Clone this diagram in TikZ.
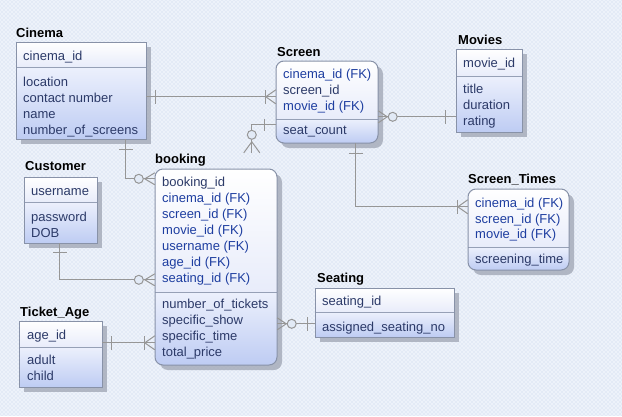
\documentclass[tikz,border=0pt]{standalone}
\usepackage{fontspec}
\setmainfont{Liberation Sans}
\usetikzlibrary{calc,fit}

\definecolor{bgc}{RGB}{226,234,246}
\definecolor{hatchc}{RGB}{240,244,251}
\definecolor{shadowc}{RGB}{158,164,178}
\definecolor{borderc}{RGB}{136,146,168}
\definecolor{sepc}{RGB}{150,160,182}
\definecolor{keytop}{RGB}{255,255,255}
\definecolor{keybot}{RGB}{232,236,250}
\definecolor{attrtop}{RGB}{236,240,252}
\definecolor{attrbot}{RGB}{190,204,243}
\definecolor{txtc}{RGB}{44,58,104}
\definecolor{fkc}{RGB}{30,62,160}
\definecolor{relc}{RGB}{150,150,150}

\tikzset{
  ttl/.style={font=\fontsize{13}{16}\bfseries\selectfont, anchor=base west, inner sep=0pt, text=black},
  fld/.style={font=\fontsize{13}{16}\selectfont, anchor=base west, inner sep=0pt, text=txtc},
  fk/.style={fld, text=fkc},
  rel/.style={draw=relc, line width=1pt},
  hollow/.style={rel, fill=bgc},
}

% entity box: name, left, top, right, separator, bottom, corner radius
\newcommand\entity[7]{%
  \fill[shadowc, opacity=.75, rounded corners=#7] (#2+5,#3+5) rectangle (#4+5,#6+5);
  \begin{scope}
    \clip[rounded corners=#7] (#2,#3) rectangle (#4,#6);
    \shade[top color=keytop, bottom color=keybot] (#2,#3) rectangle (#4,#5);
    \shade[top color=attrtop, bottom color=attrbot] (#2,#5) rectangle (#4,#6);
  \end{scope}
  \draw[sepc, line width=1pt] (#2,#5) -- (#4,#5);
  \draw[borderc, line width=1pt, rounded corners=#7] (#2,#3) rectangle (#4,#6);
  \coordinate (#1-nw) at (#2,#3);
  \coordinate (#1-se) at (#4,#6);
  \node[fit=(#1-nw)(#1-se), inner sep=0pt, draw=none] (#1) {};
}

\begin{document}
\begin{tikzpicture}[x=1pt, y=-1pt]
\useasboundingbox (0,0) rectangle (622,416);
% canvas with a faint cross hatch
\fill[bgc] (0,0) rectangle (622,416);
\begin{scope}
  \clip (0,0) rectangle (622,416);
  \foreach \k in {-420,-416,...,624} {
    \draw[hatchc, line width=.6pt] (\k,0) -- ++(416,416);
    \draw[hatchc, line width=.6pt] (\k+416,0) -- ++(-416,416);
  }
\end{scope}

% ---------- entities ----------
\entity{cin}{16}{42}{146}{67}{139}{0pt}
\node[ttl] (cin-t) at (16,37) {Cinema};
\node[fld] (cin-k)  at (23,60)  {cinema\_id};
\node[fld] (cin-a1) at (23,86)  {location};
\node[fld] (cin-a2) at (23,102) {contact number};
\node[fld] (cin-a3) at (23,118) {name};
\node[fld] (cin-a4) at (23,134) {number\_of\_screens};

\entity{scr}{276}{61}{378}{119}{143}{8pt}
\node[ttl] (scr-t) at (277,56) {Screen};
\node[fk]  (scr-k1) at (283,78)  {cinema\_id (FK)};
\node[fld] (scr-k2) at (283,94)  {screen\_id};
\node[fk]  (scr-k3) at (283,110) {movie\_id (FK)};
\node[fld] (scr-a1) at (283,134) {seat\_count};

\entity{mov}{456}{49}{522}{76}{132}{0pt}
\node[ttl] (mov-t) at (458,44) {Movies};
\node[fld] (mov-k)  at (463,67)  {movie\_id};
\node[fld] (mov-a1) at (463,93)  {title};
\node[fld] (mov-a2) at (463,109) {duration};
\node[fld] (mov-a3) at (463,125) {rating};

\entity{cus}{24}{177}{97}{202}{243}{0pt}
\node[ttl] (cus-t) at (25,170) {Customer};
\node[fld] (cus-k)  at (31,195) {username};
\node[fld] (cus-a1) at (31,221) {password};
\node[fld] (cus-a2) at (31,237) {DOB};

\entity{bk}{155}{169}{277}{292}{365}{8pt}
\node[ttl] (bk-t) at (155,163) {booking};
\node[fld] (bk-k1) at (162,186) {booking\_id};
\node[fk]  (bk-k2) at (162,202) {cinema\_id (FK)};
\node[fk]  (bk-k3) at (162,218) {screen\_id (FK)};
\node[fk]  (bk-k4) at (162,234) {movie\_id (FK)};
\node[fk]  (bk-k5) at (162,250) {username (FK)};
\node[fk]  (bk-k6) at (162,266) {age\_id (FK)};
\node[fk]  (bk-k7) at (162,282) {seating\_id (FK)};
\node[fld] (bk-a1) at (162,308) {number\_of\_tickets};
\node[fld] (bk-a2) at (162,324) {specific\_show};
\node[fld] (bk-a3) at (162,340) {specific\_time};
\node[fld] (bk-a4) at (162,356) {total\_price};

\entity{tka}{19}{321}{102}{347}{387}{0pt}
\node[ttl] (tka-t) at (20,316) {Ticket\_Age};
\node[fld] (tka-k)  at (27,339) {age\_id};
\node[fld] (tka-a1) at (27,364) {adult};
\node[fld] (tka-a2) at (27,380) {child};

\entity{sea}{315}{288}{454}{312}{337}{0pt}
\node[ttl] (sea-t) at (317,282) {Seating};
\node[fld] (sea-k)  at (322,305) {seating\_id};
\node[fld] (sea-a1) at (322,331) {assigned\_seating\_no};

\entity{stm}{468}{189}{569}{247}{270}{8pt}
\node[ttl] (stm-t) at (468,183) {Screen\_Times};
\node[fk]  (stm-k1) at (475,207) {cinema\_id (FK)};
\node[fk]  (stm-k2) at (475,223) {screen\_id (FK)};
\node[fk]  (stm-k3) at (475,238) {movie\_id (FK)};
\node[fld] (stm-a1) at (475,263) {screening\_time};

% ---------- relationships ----------
% Cinema -- Screen
\draw[rel] ($(cin.north east)+(0,55)$) coordinate (c1a) -- (scr.west |- c1a) coordinate (c1b);
\draw[rel] ($(c1a)+(9,-7)$) -- ++(0,14);
\draw[rel] ($(c1b)+(-10,-7)$) -- ++(0,14);
\draw[rel] ($(c1b)+(0,-7)$) -- ++(-10,7) -- ++(10,7);

% Cinema -- booking
\draw[rel] ($(cin.south west)+(110,0)$) coordinate (c2a) |- ($(bk.north west)+(0,10)$) coordinate (c2b);
\draw[rel] ($(c2a)+(-7,10)$) -- ++(14,0);
\draw[hollow] ($(c2b)+(-16,0)$) circle[radius=4.5pt];
\draw[rel] ($(c2b)+(0,-6)$) -- ++(-10,6) -- ++(10,6);

% Screen -- Movies
\draw[rel] ($(scr.north east)+(0,56)$) coordinate (c3a) -- (mov.west |- c3a) coordinate (c3b);
\draw[rel] ($(c3a)+(0,-6)$) -- ++(9,6) -- ++(-9,6);
\draw[hollow] ($(c3a)+(14.5,0)$) circle[radius=4.5pt];
\draw[rel] ($(c3b)+(-10,-7)$) -- ++(0,14);

% Screen -- Screen_Times
\draw[rel] ($(scr.south west)+(80,0)$) coordinate (c4a) |- ($(stm.north west)+(0,18)$) coordinate (c4b);
\draw[rel] ($(c4a)+(-7,10)$) -- ++(14,0);
\draw[rel] ($(c4b)+(-10,-7)$) -- ++(0,14);
\draw[rel] ($(c4b)+(0,-7)$) -- ++(-10,7) -- ++(10,7);

% Customer -- booking
\draw[rel] ($(cus.south west)+(36,0)$) coordinate (c5a) |- ($(bk.north west)+(0,111)$) coordinate (c5b);
\draw[rel] ($(c5a)+(-7,9)$) -- ++(14,0);
\draw[hollow] ($(c5b)+(-16,0)$) circle[radius=4.5pt];
\draw[rel] ($(c5b)+(0,-6)$) -- ++(-10,6) -- ++(10,6);

% Ticket_Age -- booking
\draw[rel] ($(tka.north east)+(0,22)$) coordinate (c6a) -- (bk.west |- c6a) coordinate (c6b);
\draw[rel] ($(c6a)+(9,-7)$) -- ++(0,14);
\draw[rel] ($(c6b)+(-10,-7)$) -- ++(0,14);
\draw[rel] ($(c6b)+(0,-7)$) -- ++(-10,7) -- ++(10,7);

% booking -- Seating
\draw[rel] ($(sea.north west)+(0,36)$) coordinate (c7b) -- (bk.east |- c7b) coordinate (c7a);
\draw[rel] ($(c7a)+(0,-6)$) -- ++(9,6) -- ++(-9,6);
\draw[hollow] ($(c7a)+(14.5,0)$) circle[radius=4.5pt];
\draw[rel] ($(c7b)+(-7,-7)$) -- ++(0,14);

% Screen -- Screen (recursive)
\draw[rel] ($(scr.north west)+(0,64)$) coordinate (c8a) -| ($(scr.north west)+(-24,92)$) coordinate (c8b);
\draw[rel] ($(c8a)+(-11,-6)$) -- ++(0,12);
\draw[hollow] ($(c8b)+(0,-18)$) circle[radius=4.5pt];
\draw[rel] ($(c8b)+(-8,0)$) -- ++(8,-11) -- ++(8,11);
\end{tikzpicture}
\end{document}
